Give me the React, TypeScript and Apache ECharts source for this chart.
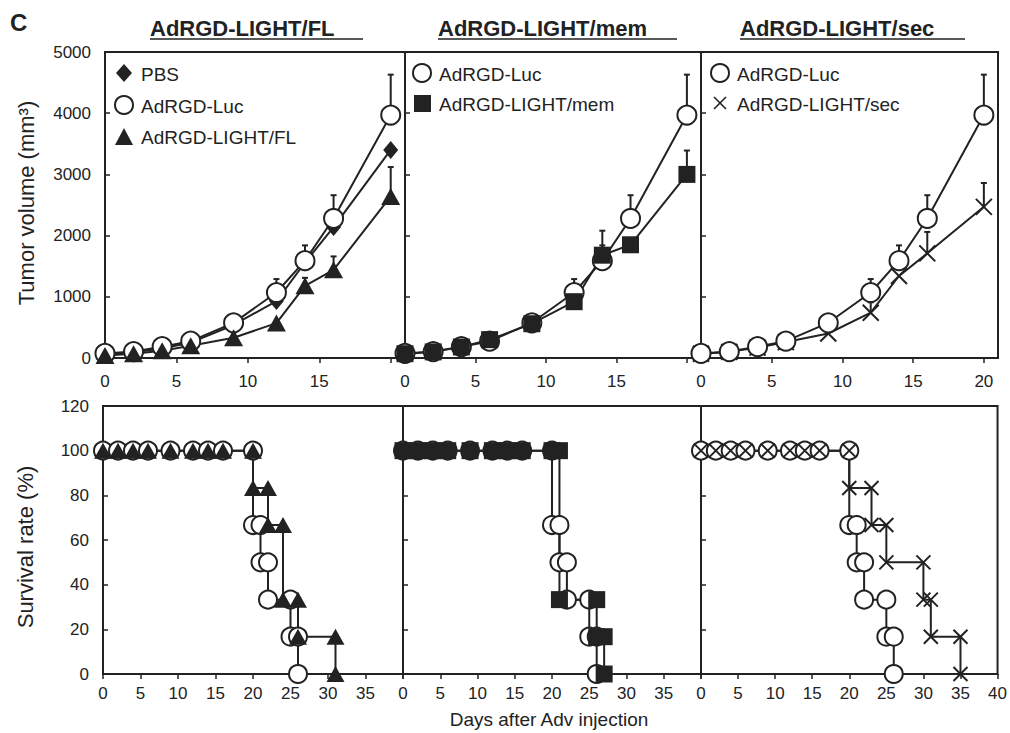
import React, { useEffect, useRef } from "react";
import * as echarts from "echarts";

// ---- Tumor volume data (mm3) ----
const days = [0, 2, 4, 6, 9, 12, 14, 16, 20];
const pbsMean = [50, 90, 160, 250, 540, 930, 1560, 2140, 3400];
const lucMean = [75, 105, 185, 275, 575, 1070, 1590, 2280, 3970];
const lucErr = [0, 0, 0, 0, 60, 220, 250, 380, 660];
const flMean = [40, 70, 120, 200, 330, 570, 1180, 1440, 2640];
const flErr = [0, 0, 0, 0, 0, 0, 130, 220, 480];
const memMean = [70, 100, 180, 300, 560, 920, 1680, 1850, 3000];
const memErr = [0, 0, 0, 0, 0, 80, 400, 0, 390];
const secMean = [70, 100, 170, 260, 400, 740, 1340, 1710, 2470];
const secErr = [0, 0, 0, 0, 0, 170, 0, 350, 390];

// ---- Survival data (%) ----
const lucSurvDays = [0, 2, 4, 6, 9, 12, 14, 16, 20, 20, 21, 21, 22, 22, 25, 25, 26, 26];
const lucSurvPct = [100, 100, 100, 100, 100, 100, 100, 100, 100, 66.7, 66.7, 50, 50, 33.3, 33.3, 16.7, 16.7, 0];
const flSurvDays = [0, 2, 4, 6, 9, 12, 14, 16, 20, 20, 22, 22, 24, 24, 26, 26, 31, 31];
const flSurvPct = [100, 100, 100, 100, 100, 100, 100, 100, 100, 83.3, 83.3, 66.7, 66.7, 33.3, 33.3, 16.7, 16.7, 0];
const memSurvDays = [0, 2, 4, 6, 9, 12, 14, 16, 20, 21, 21, 26, 26, 27, 27];
const memSurvPct = [100, 100, 100, 100, 100, 100, 100, 100, 100, 100, 33.3, 33.3, 16.7, 16.7, 0];
const secSurvDays = [0, 2, 4, 6, 9, 12, 14, 16, 20, 20, 23, 23, 25, 25, 30, 30, 31, 31, 35, 35];
const secSurvPct = [100, 100, 100, 100, 100, 100, 100, 100, 100, 83.3, 83.3, 66.7, 66.7, 50, 50, 33.3, 33.3, 16.7, 16.7, 0];

// ---- Labels ----
const panelTitles = ["AdRGD-LIGHT/FL", "AdRGD-LIGHT/mem", "AdRGD-LIGHT/sec"];
const legend1 = ["PBS", "AdRGD-Luc", "AdRGD-LIGHT/FL"];
const legend2 = ["AdRGD-Luc", "AdRGD-LIGHT/mem"];
const legend3 = ["AdRGD-Luc", "AdRGD-LIGHT/sec"];
const volTicks = { min: 0, max: 5000, interval: 1000 };
const survTicks = { min: 0, max: 120, interval: 20 };

const INK = "#222";
const FONT = "'Liberation Sans', Arial, Helvetica, sans-serif";
const CROSS = "path://M0 0L10 10M10 0L0 10";

const pairs = (xs: number[], ys: number[]) => xs.map((x, i) => [x, ys[i]]);

function lineSeries(idx: number, data: number[][], symbol: string, size: any, hollow: boolean, cross = false) {
  return {
    type: "line",
    xAxisIndex: idx,
    yAxisIndex: idx,
    data,
    symbol,
    symbolSize: size,
    showAllSymbol: true,
    clip: false,
    silent: true,
    lineStyle: { color: INK, width: 2 },
    itemStyle: cross
      ? { color: "transparent", borderColor: INK, borderWidth: 2 }
      : hollow
      ? { color: "#fff", borderColor: INK, borderWidth: 2 }
      : { color: INK, borderColor: INK, borderWidth: 0 },
    z: 2,
  };
}

function errSeries(idx: number, mean: number[], err: number[]) {
  return {
    type: "custom",
    xAxisIndex: idx,
    yAxisIndex: idx,
    z: 1,
    silent: true,
    clip: false,
    data: days.map((d, i) => [d, mean[i], err[i]]).filter((r) => r[2] > 0),
    renderItem: (params: any, api: any) => {
      const x = api.value(0);
      const y = api.value(1);
      const e = api.value(2);
      const p0 = api.coord([x, y]);
      const p1 = api.coord([x, y + e]);
      return {
        type: "group",
        children: [
          { type: "line", shape: { x1: p0[0], y1: p0[1], x2: p1[0], y2: p1[1] }, style: { stroke: INK, lineWidth: 2 } },
          { type: "line", shape: { x1: p1[0] - 3, y1: p1[1], x2: p1[0] + 3, y2: p1[1] }, style: { stroke: INK, lineWidth: 2 } },
        ],
      };
    },
  };
}

export default function App() {
  const ref = useRef<HTMLDivElement>(null);
  useEffect(() => {
    document.body.style.margin = "0";
    const chart = echarts.init(ref.current!, null, { renderer: "svg" });

    const topGrids = [
      { left: 105, width: 300 },
      { left: 405, width: 296 },
      { left: 701, width: 297 },
    ];
    const botGrids = [
      { left: 103, width: 300 },
      { left: 403, width: 298 },
      { left: 701, width: 299 },
    ];
    const grid: any[] = [];
    topGrids.forEach((g) =>
      grid.push({ ...g, top: 52, height: 306, show: true, borderColor: INK, borderWidth: 2, backgroundColor: "transparent" })
    );
    botGrids.forEach((g) =>
      grid.push({ ...g, top: 406, height: 268, show: true, borderColor: INK, borderWidth: 2, backgroundColor: "transparent" })
    );

    const axisLine = { show: true, onZero: false, lineStyle: { color: INK, width: 2 } };
    const labelBase = { color: INK, fontSize: 17, fontFamily: FONT };

    const xAxis: any[] = [];
    const yAxis: any[] = [];
    for (let i = 0; i < 3; i++) {
      const last = i === 2;
      xAxis.push({
        gridIndex: i,
        type: "value",
        min: 0,
        max: 21,
        interval: 5,
        axisLine,
        axisTick: { show: true, inside: false, length: 5, lineStyle: { color: INK, width: 1.5 } },
        axisLabel: {
          ...labelBase,
          margin: 15,
          showMaxLabel: false,
          formatter: (v: number) => (v % 5 === 0 && (last ? v <= 20 : v < 20) ? String(v) : ""),
        },
        splitLine: { show: false },
      });
      yAxis.push({
        gridIndex: i,
        type: "value",
        ...volTicks,
        axisLine,
        axisTick: { show: true, inside: true, length: 5, lineStyle: { color: INK, width: 1.5 } },
        axisLabel: { ...labelBase, show: i === 0, margin: 14, formatter: (v: number) => String(v) },
        splitLine: { show: false },
      });
    }
    for (let i = 0; i < 3; i++) {
      const last = i === 2;
      xAxis.push({
        gridIndex: 3 + i,
        type: "value",
        min: 0,
        max: 40,
        interval: 5,
        axisLine,
        axisTick: { show: true, inside: false, length: 5, lineStyle: { color: INK, width: 1.5 } },
        axisLabel: {
          ...labelBase,
          margin: 11,
          formatter: (v: number) => ((last ? v <= 40 : v < 40) ? String(v) : ""),
        },
        splitLine: { show: false },
      });
      yAxis.push({
        gridIndex: 3 + i,
        type: "value",
        ...survTicks,
        axisLine,
        axisTick: { show: true, inside: true, length: 5, lineStyle: { color: INK, width: 1.5 } },
        axisLabel: { ...labelBase, show: i === 0, margin: 14, formatter: (v: number) => String(v) },
        splitLine: { show: false },
      });
    }

    const series: any[] = [
      // top panel 1
      errSeries(0, lucMean, lucErr),
      errSeries(0, flMean, flErr),
      lineSeries(0, pairs(days, pbsMean), "diamond", [15, 18], false),
      lineSeries(0, pairs(days, lucMean), "circle", 19, true),
      lineSeries(0, pairs(days, flMean), "triangle", [19, 17], false),
      // top panel 2
      errSeries(1, lucMean, lucErr),
      errSeries(1, memMean, memErr),
      lineSeries(1, pairs(days, lucMean), "circle", 19, true),
      lineSeries(1, pairs(days, memMean), "rect", 17, false),
      // top panel 3
      errSeries(2, lucMean, lucErr),
      errSeries(2, secMean, secErr),
      lineSeries(2, pairs(days, secMean), CROSS, 16, false, true),
      lineSeries(2, pairs(days, lucMean), "circle", 19, true),
      // bottom panel 1
      lineSeries(3, pairs(lucSurvDays, lucSurvPct), "circle", 18, true),
      lineSeries(3, pairs(flSurvDays, flSurvPct), "triangle", [18, 16], false),
      // bottom panel 2
      lineSeries(4, pairs(lucSurvDays, lucSurvPct), "circle", 18, true),
      lineSeries(4, pairs(memSurvDays, memSurvPct), "rect", 17, false),
      // bottom panel 3
      lineSeries(5, pairs(lucSurvDays, lucSurvPct), "circle", 18, true),
      lineSeries(5, pairs(secSurvDays, secSurvPct), CROSS, 14, false, true),
    ];

    const txt = (x: number, y: number, text: string, size: number, opts: any = {}) => ({
      type: "text",
      x,
      y,
      rotation: opts.rotation || 0,
      silent: true,
      style: {
        text,
        fill: INK,
        fontSize: size,
        fontFamily: FONT,
        fontWeight: opts.bold ? "bold" : "normal",
        align: opts.align || "left",
        verticalAlign: "middle",
      },
    });
    const ln = (x1: number, y1: number, x2: number, y2: number, w = 2) => ({
      type: "line",
      silent: true,
      shape: { x1, y1, x2, y2 },
      style: { stroke: INK, lineWidth: w },
    });

    const graphic: any[] = [
      txt(10, 22, "C", 24, { bold: true }),
      // panel titles + underlines
      txt(150, 28, panelTitles[0], 22, { bold: true }),
      ln(150, 39, 363, 39, 1.5),
      txt(438, 28, panelTitles[1], 22, { bold: true }),
      ln(438, 39, 677, 39, 1.5),
      txt(740, 28, panelTitles[2], 22, { bold: true }),
      ln(740, 39, 965, 39, 1.5),
      // axis titles
      txt(26, 203, "Tumor volume (mm\u00B3)", 22, { rotation: Math.PI / 2, align: "center" }),
      txt(25, 547, "Survival rate (%)", 22, { rotation: Math.PI / 2, align: "center" }),
      txt(549, 719, "Days after Adv injection", 19, { align: "center" }),
      // legend panel 1
      { type: "polygon", silent: true, shape: { points: [[124, 64], [132, 73], [124, 82], [116, 73]] }, style: { fill: INK } },
      txt(141, 74, legend1[0], 19),
      { type: "circle", silent: true, shape: { cx: 124, cy: 105, r: 9 }, style: { fill: "#fff", stroke: INK, lineWidth: 2 } },
      txt(141, 106, legend1[1], 19),
      { type: "polygon", silent: true, shape: { points: [[124, 128], [133, 145], [115, 145]] }, style: { fill: INK } },
      txt(141, 137, legend1[2], 19),
      // legend panel 2
      { type: "circle", silent: true, shape: { cx: 422, cy: 73, r: 9 }, style: { fill: "#fff", stroke: INK, lineWidth: 2 } },
      txt(439, 74, legend2[0], 19),
      { type: "rect", silent: true, shape: { x: 414, y: 95, width: 17, height: 17 }, style: { fill: INK } },
      txt(439, 104, legend2[1], 19),
      // legend panel 3
      { type: "circle", silent: true, shape: { cx: 720, cy: 73, r: 9 }, style: { fill: "#fff", stroke: INK, lineWidth: 2 } },
      txt(737, 74, legend3[0], 19),
      ln(714, 97, 726, 109, 1.6),
      ln(726, 97, 714, 109, 1.6),
      txt(737, 104, legend3[1], 19),
    ];

    chart.setOption({
      animation: false,
      backgroundColor: "#fff",
      grid,
      xAxis,
      yAxis,
      series,
      graphic,
    });
    return () => chart.dispose();
  }, []);
  return <div ref={ref} style={{ width: 1010, height: 733 }} />;
}
